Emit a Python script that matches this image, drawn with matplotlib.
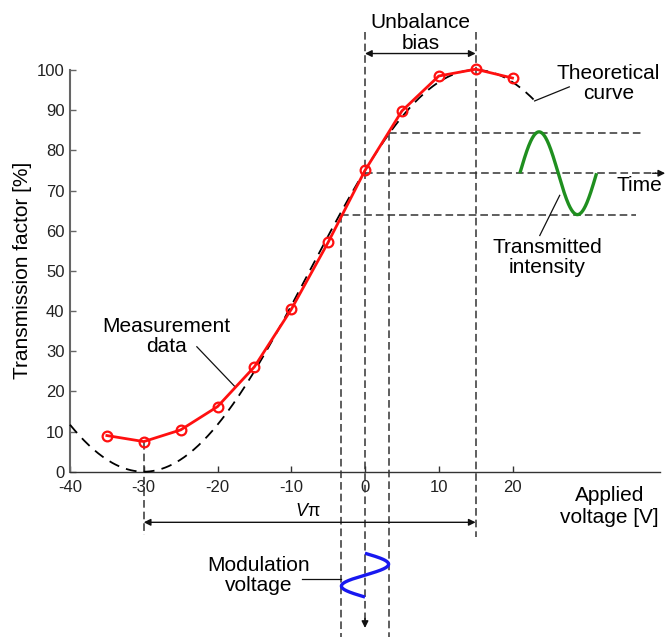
import numpy as np
import matplotlib.pyplot as plt

plt.rcParams['font.family'] = ['Liberation Sans', 'DejaVu Sans']
plt.rcParams['mathtext.fontset'] = 'custom'
plt.rcParams['mathtext.it'] = 'Liberation Sans:italic'
plt.rcParams['mathtext.rm'] = 'Liberation Sans'
plt.rcParams['axes.unicode_minus'] = False

# ------------------------
# Data
# ------------------------
volt = [-35, -30, -25, -20, -15, -10, -5, 0, 5, 10, 15, 20]
trans = [9.0, 7.5, 10.4, 16.2, 26.1, 40.4, 57.1, 75.0, 89.8, 98.5, 100.2, 98.0]

x_ticks = [-40, -30, -20, -10, 0, 10, 20]
y_ticks = [0, 10, 20, 30, 40, 50, 60, 70, 80, 90, 100]

# theoretical curve: minimum at v_min, maximum at v_max
v_min, v_max = -30.0, 15.0
v_pi = v_max - v_min
v_bias = 0.0
v_mod = 3.2                      # modulation amplitude (V)
t_hi, t_mid, t_lo = 84.4, 74.3, 63.8   # transmitted intensity levels

# ------------------------
# Figure
# ------------------------
fig = plt.figure(figsize=(6.66, 6.37), dpi=100)
ax = fig.add_axes([70 / 666, 1 - 471.7 / 637, 590 / 666, 401.7 / 637])
ax.set_xlim(-40, 40)
ax.set_ylim(0, 100)

for s in ['top', 'right']:
    ax.spines[s].set_visible(False)
ax.spines['left'].set_color('#666666')
ax.spines['left'].set_linewidth(1.5)
ax.spines['bottom'].set_color('#333333')
ax.spines['bottom'].set_linewidth(1.0)

ax.set_xticks(x_ticks)
ax.set_yticks(y_ticks)
ax.tick_params(axis='both', direction='in', length=4, width=1,
               labelsize=12, colors='#333333', labelcolor='#222222')
ax.tick_params(axis='x', pad=6)
ax.tick_params(axis='y', pad=4, color='#666666')

TXT = 15
dash_kw = dict(color='#333333', lw=1.1, dashes=(5, 2.6), clip_on=False, zorder=2)

# theoretical curve
vt = np.linspace(-40, 23.5, 300)
tt = 50 - 50 * np.cos(np.pi * (vt - v_min) / v_pi)
ax.plot(vt, tt, color='black', lw=1.3, dashes=(6, 4), zorder=3, clip_on=False)

# measurement data
ax.plot(volt, trans, color='#ff1010', lw=2, marker='o', ms=7, mfc='none',
        mec='#ff1010', mew=1.6, zorder=5, clip_on=False)

# guide lines
ax.plot([v_bias, v_bias], [109.4, -37.5], **dash_kw)
ax.plot([v_max, v_max], [109.4, -16.2], **dash_kw)
ax.plot([v_min, v_min], [7.5, -15.8], **dash_kw)
ax.plot([-v_mod, -v_mod], [t_lo, -41.1], **dash_kw)
ax.plot([v_mod, v_mod], [t_hi, -41.1], **dash_kw)
ax.plot([v_mod, 37.4], [t_hi, t_hi], **dash_kw)
ax.plot([-v_mod, 36.8], [t_lo, t_lo], **dash_kw)
ax.plot([v_bias, 39.5], [t_mid, t_mid], **dash_kw)

arrow_kw = dict(arrowstyle='-|>', color='#111111', lw=1, mutation_scale=10,
                shrinkA=0, shrinkB=0)
ax.annotate('', xy=(40.7, t_mid), xytext=(39.0, t_mid),
            arrowprops=arrow_kw, annotation_clip=False)
ax.annotate('', xy=(v_bias, -38.9), xytext=(v_bias, -36.5),
            arrowprops=arrow_kw, annotation_clip=False)

# double arrows
darrow = dict(arrowstyle='<|-|>', color='#111111', lw=1, mutation_scale=10,
              shrinkA=0, shrinkB=0)
ax.annotate('', xy=(v_bias, 104.1), xytext=(v_max, 104.1),
            arrowprops=darrow, annotation_clip=False)
ax.annotate('', xy=(v_min, -12.6), xytext=(v_max, -12.6),
            arrowprops=darrow, annotation_clip=False)

# transmitted intensity (green)
tg = np.linspace(0, 1, 200)
xg = 21.0 + 10.4 * tg
yg = t_mid + (t_hi - t_lo) / 2 * np.sin(2 * np.pi * tg)
ax.plot(xg, yg, color='#1f8f1f', lw=2.4, zorder=4, clip_on=False,
        solid_capstyle='butt')

# modulation voltage (blue)
tb = np.linspace(0, 1, 200)
yb = -20.3 - 10.9 * tb
xb = v_bias + v_mod * np.sin(2 * np.pi * tb)
ax.plot(xb, yb, color='#1818f0', lw=2.4, zorder=4, clip_on=False,
        solid_capstyle='butt')

# leader lines
lead = dict(color='#111111', lw=0.9, clip_on=False, zorder=4)
ax.plot([-22.8, -17.6], [31.1, 21.1], **lead)
ax.plot([23.0, 27.7], [92.3, 95.8], **lead)
ax.plot([23.7, 26.4], [58.8, 68.8], **lead)
ax.plot([-8.6, -3.2], [-26.8, -26.8], **lead)

# labels
ax.text(7.5, 109.3, 'Unbalance\nbias', ha='center', va='center',
        fontsize=TXT, linespacing=1.12)
ax.text(33.0, 96.6, 'Theoretical\ncurve', ha='center', va='center',
        fontsize=TXT, linespacing=1.05)
ax.text(34.1, 71.3, 'Time', ha='left', va='center', fontsize=TXT)
ax.text(24.7, 53.4, 'Transmitted\nintensity', ha='center', va='center',
        fontsize=TXT, linespacing=1.08)
ax.text(-26.9, 33.6, 'Measurement\ndata', ha='center', va='center',
        fontsize=TXT, linespacing=1.1)
ax.text(-14.4, -25.8, 'Modulation\nvoltage', ha='center', va='center',
        fontsize=TXT, linespacing=1.08)
ax.text(33.15, -8.6, 'Applied\nvoltage [V]', ha='center', va='center',
        fontsize=TXT, linespacing=1.18)
ax.text(-7.7, -9.95, r'$V$π', ha='center', va='center', fontsize=13)
ax.text(-0.081, 0.5, 'Transmission factor [%]', rotation=90, ha='center',
        va='center', fontsize=TXT, transform=ax.transAxes)

fig.savefig('out.png', dpi=100)
